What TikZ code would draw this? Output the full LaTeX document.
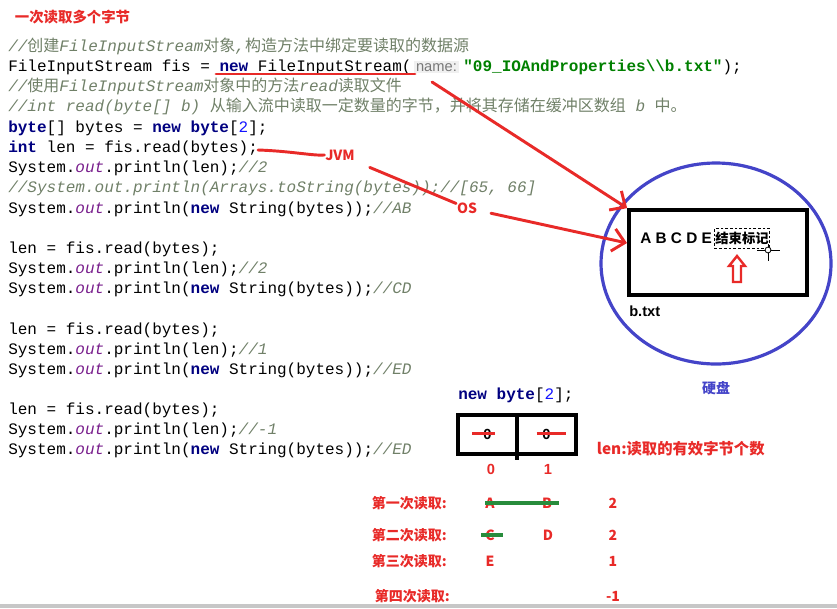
\documentclass[tikz,border=0pt]{standalone}
\usepackage{fontspec}
\setmainfont{Liberation Sans}
\setsansfont{Liberation Sans}
\setmonofont{Liberation Mono}
\newfontfamily\cjk{Noto Sans CJK SC}
\usepackage{xcolor}
\usetikzlibrary{positioning,shapes.geometric,arrows.meta}

\definecolor{penred}{RGB}{232,42,40}
\definecolor{pengreen}{RGB}{40,140,60}
\definecolor{diskblue}{RGB}{68,68,200}
\definecolor{kwnavy}{RGB}{0,0,128}
\definecolor{numblue}{RGB}{20,20,255}
\definecolor{strgreen}{RGB}{0,128,0}
\definecolor{fldpurple}{RGB}{120,30,140}
\definecolor{cmtgray}{RGB}{112,128,104}
\definecolor{hintgray}{RGB}{120,120,120}

\newcommand{\zh}[1]{{\cjk\upshape #1}}
\newcommand{\jkw}[1]{\textcolor{kwnavy}{\bfseries #1}}
\newcommand{\jcm}[1]{\textcolor{cmtgray}{\itshape #1}}
\newcommand{\jfd}[1]{\textcolor{fldpurple}{\itshape #1}}
\newcommand{\jnum}[1]{\textcolor{numblue}{#1}}
\newcommand{\jstr}[1]{\textcolor{strgreen}{\bfseries #1}}

\begin{document}
\begin{tikzpicture}[
  x=0.75pt, y=-0.75pt,
  codeline/.style={anchor=base west, inner sep=0pt, font=\ttfamily\fontsize{12}{14}\selectfont},
  hint/.style={fill=black!6, text=hintgray, inner sep=1.5pt, font=\sffamily\fontsize{11}{13}\selectfont},
  note/.style={text=penred, inner sep=0.5pt, font=\cjk\bfseries\fontsize{10.5}{12}\selectfont},
  pen/.style={draw=penred, line width=2.2pt, line cap=round},
  barb/.style={-{Straight Barb[length=9pt,width=17pt,line width=2.2pt]}},
  cell/.style={draw, line width=2.8pt, minimum width=44.25pt, minimum height=29.25pt,
    inner sep=0pt, outer sep=0pt, font=\sffamily\bfseries\fontsize{11}{13}\selectfont},
  redstrike/.style={draw=penred, line width=2pt},
  greenstrike/.style={draw=pengreen, line width=2.4pt}
]
\useasboundingbox (0,0) rectangle (837,608);

\def\xCode{8}
\def\xRead{371}
\def\xLetA{490}
\def\xLetB{548}
\def\xLen{613}

% ------------------------
% Title
% ------------------------
\node[note, anchor=west, font=\cjk\bfseries\fontsize{10.8}{12}\selectfont] (title) at (14,17) {一次读取多个字节};

% ------------------------
% Code listing
% ------------------------
\node[codeline] (cmtCreate) at (\xCode,51)
  {\jcm{//\zh{创建}FileInputStream\zh{对象},\zh{构造方法中绑定要读取的数据源}}};
\node[codeline] (newFis) at (\xCode,71) {FileInputStream fis = \jkw{new} FileInputStream(};
\node[hint, base right=1.5pt of newFis] (hintName) {name:};
\node[codeline, base right=3pt of hintName] (fisPath)
  {\jstr{"09\_IOAndProperties\textbackslash\textbackslash b.txt"});};
\node[codeline] (cmtUse) at (\xCode,91)
  {\jcm{//\zh{使用}FileInputStream\zh{对象中的方法}read\zh{读取文件}}};
\node[codeline] (cmtRead) at (\xCode,111)
  {\jcm{//int read(byte[] b) \zh{从输入流中读取一定数量的字节，并将其存储在缓冲区数组} b \zh{中。}}};
\node[codeline] (declBytes) at (\xCode,132) {\jkw{byte}[] bytes = \jkw{new} \jkw{byte}[\jnum{2}];};
\node[codeline] (readOne) at (\xCode,152) {\jkw{int} len = fis.read(bytes);};
\node[codeline] (lenOne) at (\xCode,172) {System.\jfd{out}.println(len);\jcm{//2}};
\node[codeline] (cmtArrays) at (\xCode,192) {\jcm{//System.out.println(Arrays.toString(bytes));//[65, 66]}};
\node[codeline] (strOne) at (\xCode,213) {System.\jfd{out}.println(\jkw{new} String(bytes));\jcm{//AB}};

\node[codeline] (readTwo) at (\xCode,253) {len = fis.read(bytes);};
\node[codeline] (lenTwo) at (\xCode,273) {System.\jfd{out}.println(len);\jcm{//2}};
\node[codeline] (strTwo) at (\xCode,293) {System.\jfd{out}.println(\jkw{new} String(bytes));\jcm{//CD}};

\node[codeline] (readThree) at (\xCode,334) {len = fis.read(bytes);};
\node[codeline] (lenThree) at (\xCode,354) {System.\jfd{out}.println(len);\jcm{//1}};
\node[codeline] (strThree) at (\xCode,374) {System.\jfd{out}.println(\jkw{new} String(bytes));\jcm{//ED}};

\node[codeline] (readFour) at (\xCode,414) {len = fis.read(bytes);};
\node[codeline] (lenFour) at (\xCode,434) {System.\jfd{out}.println(len);\jcm{//-1}};
\node[codeline] (strFour) at (\xCode,454) {System.\jfd{out}.println(\jkw{new} String(bytes));\jcm{//ED}};

% underline of the constructor call
\draw[pen] (216,74) -- (415,74);

% ------------------------
% Disk with b.txt
% ------------------------
\node[ellipse, draw=diskblue, line width=2.4pt, minimum width=172.5pt, minimum height=150.75pt,
  inner sep=0pt] (disk) at (716,263.5) {};
\node[text=diskblue, font=\cjk\bfseries\fontsize{10.5}{12}\selectfont] (diskName) at (716,388) {硬盘};

\node[draw, line width=2.8pt, minimum width=133.5pt, minimum height=63.75pt, inner sep=0pt]
  (file) at (718,252.5) {};
\node[anchor=west, inner sep=0pt, font=\sffamily\bfseries\fontsize{11.5}{13}\selectfont] (letters) at (640,238) {A B C D E};
\node[draw, dashed, dash pattern=on 2pt off 1.5pt, line width=0.6pt, inner sep=0.5pt,
  minimum height=15.5pt, font=\cjk\bfseries\fontsize{10}{12}\selectfont] (endMark) at (742,238.5) {结束标记};
\node[anchor=west, inner sep=0pt, font=\sffamily\bfseries\fontsize{11}{13}\selectfont] (fileName) at (629,311) {b.txt};

% cursor
\draw[line width=0.6pt] (757,250) -- (780,250) (768,244) -- (768,261);
\draw[line width=0.6pt, fill=white] (768,250) circle[radius=2.2pt];

% hollow up arrow under the end mark
\draw[draw=penred, line width=1.8pt] (737,256) -- (745,266) -- (741,266) -- (741,282)
  -- (733,282) -- (733,266) -- (729,266) -- cycle;

% ------------------------
% JVM / OS annotations
% ------------------------
\node[note] (jvm) at (340,155) {JVM};
\node[note] (os) at (467,208) {OS};
\coordinate (jvmTail) at (258,150);
\coordinate (hintTail) at (432,82);
\coordinate (fileIn) at (627,243);

\draw[pen] (jvmTail) .. controls (290,151) and (314,156) .. (jvm.west);
\draw[pen, shorten <=12pt] (jvm) -- (os);
\draw[pen, barb, shorten <=10pt] (os) -- (fileIn);
\draw[pen, barb] (hintTail) -- (file.north west);

% ------------------------
% Buffer array
% ------------------------
\node[codeline] (newArr) at (458,399) {\jkw{new} \jkw{byte}[\jnum{2}];};
\node[cell] (cellA) at (487.5,434.5) {0};
\node[cell, right=0pt of cellA] (cellB) {0};
\draw[line width=2.8pt] (cellA.south east) -- ++(0,6);
\draw[redstrike] ([shift={(-15.5,-1)}]cellA.center) -- ([shift={(7.5,-1)}]cellA.center);
\draw[redstrike] ([shift={(-10,-1)}]cellB.center) -- ([shift={(19,-1)}]cellB.center);

\node[note, font=\sffamily\bfseries\fontsize{11}{13}\selectfont] (idxA) at (491,469) {0};
\node[note, font=\sffamily\bfseries\fontsize{11}{13}\selectfont] (idxB) at (548,469) {1};
\node[note, anchor=west, font=\cjk\bfseries\fontsize{11.5}{13}\selectfont] (lenNote) at (596,449) {len:读取的有效字节个数};

% ------------------------
% Reads
% ------------------------
\node[note, anchor=west] (readLblA) at (\xRead,503) {第一次读取:};
\node[note, anchor=west] (readLblB) at (\xRead,535) {第二次读取:};
\node[note, anchor=west] (readLblC) at (\xRead,561) {第三次读取:};
\node[note, anchor=west] (readLblD) at (\xRead+3,596) {第四次读取:};

\node[note] (readA) at (\xLetA,503) {A};
\node[note] (readB) at (\xLetB-1,503) {B};
\node[note] (readC) at (\xLetA,535) {C};
\node[note] (readD) at (\xLetB,535) {D};
\node[note] (readE) at (\xLetA,561) {E};

\node[note] (lenA) at (\xLen,503) {2};
\node[note] (lenB) at (\xLen,535) {2};
\node[note] (lenC) at (\xLen,561) {1};
\node[note] (lenD) at (\xLen,596) {-1};

\draw[greenstrike] ([shift={(-5,0)}]readA.center) -- ([shift={(12,0)}]readB.center);
\draw[greenstrike] ([shift={(-9,0)}]readC.center) -- ([shift={(13,0)}]readC.center);

% screen edge
\fill[black!22] (0,604) rectangle (837,608);

\end{tikzpicture}
\end{document}
